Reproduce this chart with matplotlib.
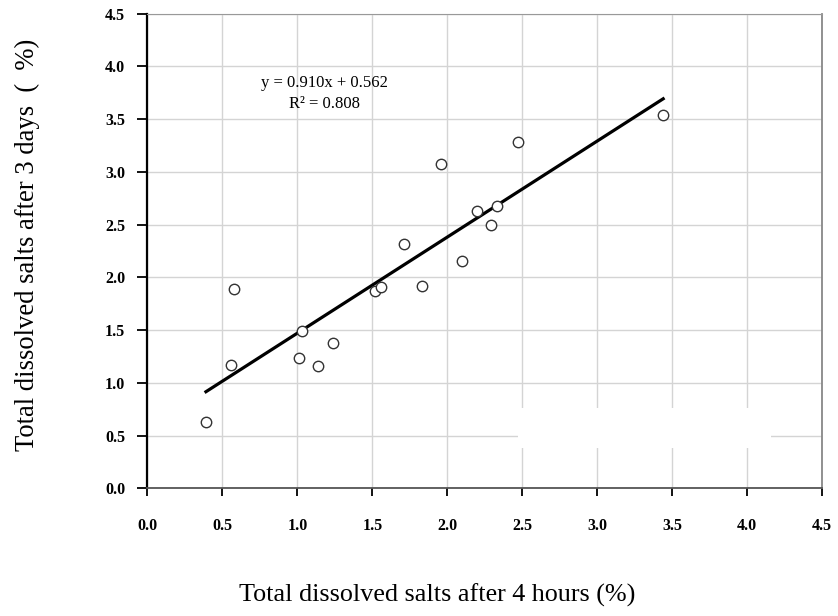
import numpy as np
import matplotlib
matplotlib.use('Agg')
from matplotlib import pyplot as plt
from matplotlib.patches import Rectangle

# TDS after 4 hours (x) vs after 3 days (y)
tds_4h = [0.39, 0.56, 0.58, 1.01, 1.03, 1.14, 1.24, 1.52, 1.56, 1.71,
          1.83, 1.96, 2.10, 2.20, 2.29, 2.33, 2.47, 3.44]
tds_3d = [0.63, 1.17, 1.89, 1.24, 1.49, 1.16, 1.38, 1.87, 1.91, 2.32,
          1.92, 3.07, 2.16, 2.63, 2.50, 2.68, 3.28, 3.54]
slope = 0.910
intercept = 0.562
r2 = 0.808
ticks = [0.0, 0.5, 1.0, 1.5, 2.0, 2.5, 3.0, 3.5, 4.0, 4.5]

plt.rcParams['font.family'] = ['Liberation Serif', 'DejaVu Serif']

fig = plt.figure(figsize=(8.38, 6.16), dpi=100)
ax = fig.add_axes([0.176, 0.207, 0.805, 0.771])

x = np.array(tds_4h)
y = np.array(tds_3d)

# fitted line over the data range
xl = np.array([x.min(), x.max()])
ax.plot(xl, slope * xl + intercept, color='black', lw=2.3, zorder=3)
ax.plot(x, y, 'o', ms=7.5, mfc='white', mec='#333333', mew=1.0, zorder=4)

ax.text(1.18, 3.84, 'y = %.3fx + %.3f' % (slope, intercept), ha='center', va='center', fontsize=12)
ax.text(1.18, 3.64, 'R\u00b2 = %.3f' % r2, ha='center', va='center', fontsize=12)

ax.set_xlim(0, 4.5)
ax.set_ylim(0, 4.5)
ax.set_xticks(ticks)
ax.set_yticks(ticks)
ax.set_xticklabels(['%.1f' % t for t in ticks], fontsize=11.5, fontweight='bold')
ax.set_yticklabels(['%.1f' % t for t in ticks], fontsize=11.5, fontweight='bold')
ax.tick_params(axis='x', direction='out', length=6, width=1.3, pad=15, colors='black')
ax.tick_params(axis='y', direction='out', length=7, width=1.3, pad=9, colors='black')
ax.grid(True, color='#d4d4d4', lw=1.0)
ax.set_axisbelow(True)

ax.spines['left'].set_color('black')
ax.spines['left'].set_linewidth(1.6)
ax.spines['bottom'].set_color('#555555')
ax.spines['bottom'].set_linewidth(1.3)
ax.spines['top'].set_color('#999999')
ax.spines['right'].set_color('#888888')
ax.spines['right'].set_linewidth(1.3)

# blank patch covering part of the grid, as in the source image
ax.add_patch(Rectangle((2.47, 0.38), 1.69, 0.38, facecolor='white', edgecolor='none', zorder=2))

fig.text(0.522, 0.034, 'Total dissolved salts after 4 hours (%)', ha='center', va='center', fontsize=18.8)
fig.text(0.033, 0.603, 'Total dissolved salts after 3 days  (  %)', ha='center', va='center',
         rotation=90, fontsize=19.2)

fig.savefig('out.png', dpi=100)
